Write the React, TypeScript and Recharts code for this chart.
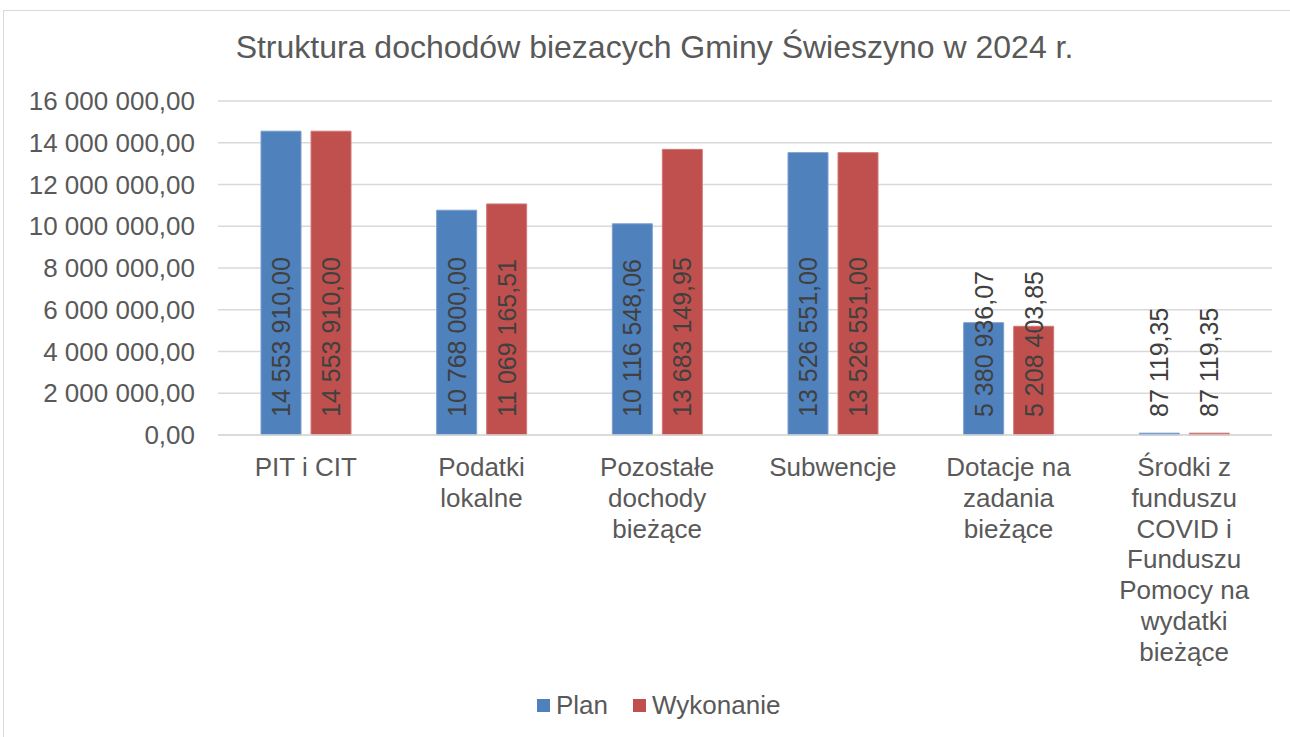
import { BarChart, Bar, XAxis, YAxis, CartesianGrid, Legend, LabelList } from 'recharts'

const categories = [
  'PIT i CIT',
  'Podatki\nlokalne',
  'Pozostałe\ndochody\nbieżące',
  'Subwencje',
  'Dotacje na\nzadania\nbieżące',
  'Środki z\nfunduszu\nCOVID i\nFunduszu\nPomocy na\nwydatki\nbieżące',
]
const planValues = [14553910.0, 10768000.0, 10116548.06, 13526551.0, 5380936.07, 87119.35]
const wykonanieValues = [14553910.0, 11069165.51, 13683149.95, 13526551.0, 5208403.85, 87119.35]
const yTicks = [0, 2000000, 4000000, 6000000, 8000000, 10000000, 12000000, 14000000, 16000000]

const PLAN_COLOR = '#4F81BD'
const WYK_COLOR = '#C0504D'
const FONT = '"Liberation Sans", Arial, sans-serif'

const data = categories.map((name, i) => ({
  name,
  plan: planValues[i],
  wykonanie: wykonanieValues[i],
}))

// 14553910 -> "14 553 910,00"
function fmt(v: number) {
  const [i, d] = v.toFixed(2).split('.')
  return i.replace(/\B(?=(\d{3})+(?!\d))/g, ' ') + ',' + d
}

const ValueLabel = (props: any) => {
  const { x, y, width, height, value } = props
  const cx = x + width / 2
  const cy = y + height - 18
  return (
    <text
      x={cx} y={cy}
      transform={`rotate(-90, ${cx}, ${cy})`}
      textAnchor="start"
      dominantBaseline="central"
      fontSize={25}
      fontFamily={FONT}
      fill="#404040"
    >
      {fmt(value)}
    </text>
  )
}

const CategoryTick = (props: any) => {
  const { x, y, payload } = props
  const lines = String(payload.value).split('\n')
  return (
    <g>
      {lines.map((line, i) => (
        <text
          key={i}
          x={x}
          y={y + 41 + i * 30.8}
          textAnchor="middle"
          fontSize={26}
          fontFamily={FONT}
          fill="#595959"
        >
          {line}
        </text>
      ))}
    </g>
  )
}

const ValueTick = (props: any) => {
  const { x, y, payload } = props
  return (
    <text x={x} y={y} textAnchor="end" dominantBaseline="central"
      fontSize={26} fontFamily={FONT} fill="#595959">
      {fmt(payload.value)}
    </text>
  )
}

const LegendContent = () => (
  <div style={{ width: 1290, height: 62, position: 'relative', fontFamily: FONT, fontSize: 26, color: '#595959' }}>
    <div style={{ position: 'absolute', left: 537, top: 24, width: 13, height: 13, background: PLAN_COLOR }} />
    <div style={{ position: 'absolute', left: 556, top: 15, lineHeight: '30px' }}>Plan</div>
    <div style={{ position: 'absolute', left: 633, top: 24, width: 13, height: 13, background: WYK_COLOR }} />
    <div style={{ position: 'absolute', left: 652, top: 15, lineHeight: '30px' }}>Wykonanie</div>
  </div>
)

export default function App() {
  return (
    <div style={{ position: 'absolute', left: 0, top: 0, width: 1290, height: 737, overflow: 'hidden', background: '#fff' }}>
      <div style={{ position: 'absolute', left: 3, top: 10, width: 1300, height: 800, border: '1px solid #d9d9d9' }} />
      <div style={{
        position: 'absolute', left: 0, top: 29, width: 1290, paddingLeft: 19, boxSizing: 'border-box',
        textAlign: 'center', fontFamily: FONT, fontSize: 32, lineHeight: '36px', color: '#595959',
      }}>
        Struktura dochodów biezacych Gminy Świeszyno w 2024 r.
      </div>
      <div style={{ position: 'absolute', left: 0, top: 0 }}>
        <BarChart
          width={1290}
          height={737}
          data={data}
          margin={{ top: 101, right: 18, left: 0, bottom: 0 }}
          barSize={40}
          barGap={10}
        >
          <CartesianGrid vertical={false} stroke="#d9d9d9" strokeWidth={1.5} />
          <XAxis
            dataKey="name"
            interval={0}
            height={240}
            tickLine={false}
            axisLine={{ stroke: '#d9d9d9', strokeWidth: 1.5 }}
            tick={<CategoryTick />}
            tickSize={0}
            tickMargin={0}
          />
          <YAxis
            domain={[0, 16000000]}
            ticks={yTicks}
            interval={0}
            width={218}
            axisLine={false}
            tickLine={false}
            tickSize={0}
            tickMargin={23}
            tick={<ValueTick />}
          />
          <Legend verticalAlign="bottom" content={<LegendContent />} wrapperStyle={{ left: 0, width: 1290 }} />
          <Bar dataKey="plan" name="Plan" fill={PLAN_COLOR} stroke="#7a9fd0" strokeWidth={1} isAnimationActive={false}>
            <LabelList dataKey="plan" content={<ValueLabel />} />
          </Bar>
          <Bar dataKey="wykonanie" name="Wykonanie" fill={WYK_COLOR} stroke="#d07a78" strokeWidth={1} isAnimationActive={false}>
            <LabelList dataKey="wykonanie" content={<ValueLabel />} />
          </Bar>
        </BarChart>
      </div>
    </div>
  )
}
